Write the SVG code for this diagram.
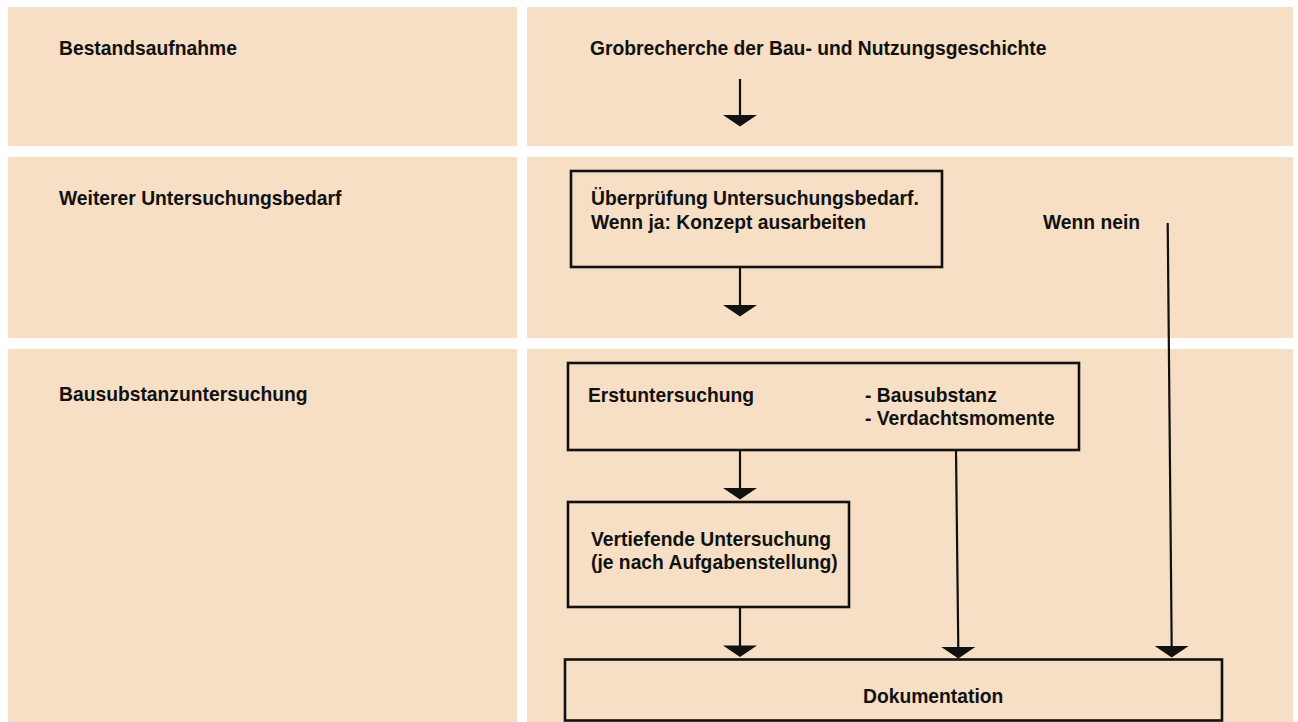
<svg xmlns="http://www.w3.org/2000/svg" xmlns:xlink="http://www.w3.org/1999/xlink" width="1298" height="722" viewBox="0 0 1298 722">
<style>
.panel{fill:#F6DFC4}
.box{fill:none;stroke:#111;stroke-width:2.6}
.ln{stroke:#111;stroke-width:2.2;fill:none}
text{font-family:"Liberation Sans",Arial,sans-serif;font-weight:bold;font-size:19.3px;fill:#111}
</style>
<defs>
<path id="head" d="M-17,0 L17,0 L0,11.5 Z" fill="#111"/>
</defs>
<rect width="1298" height="722" fill="#fff"/>
<g id="panels">
<rect class="panel" x="8" y="7" width="509" height="139"/>
<rect class="panel" x="527" y="7" width="766" height="139"/>
<rect class="panel" x="8" y="157" width="509" height="181"/>
<rect class="panel" x="527" y="157" width="766" height="181"/>
<rect class="panel" x="8" y="349" width="509" height="373"/>
<rect class="panel" x="527" y="349" width="766" height="373"/>
</g>
<g id="row-labels">
<text x="59" y="55">Bestandsaufnahme</text>
<text x="59" y="205">Weiterer Untersuchungsbedarf</text>
<text x="59" y="401">Bausubstanzuntersuchung</text>
</g>
<g id="grobrecherche">
<text x="590" y="55">Grobrecherche der Bau- und Nutzungsgeschichte</text>
</g>
<g id="ueberpruefung">
<rect class="box" x="571" y="171" width="371" height="96"/>
<text x="591" y="205">Überprüfung Untersuchungsbedarf.</text>
<text x="591" y="229">Wenn ja: Konzept ausarbeiten</text>
</g>
<g id="wenn-nein">
<text x="1043" y="229">Wenn nein</text>
</g>
<g id="erstuntersuchung">
<rect class="box" x="568" y="363" width="511" height="87"/>
<text x="588" y="402">Erstuntersuchung</text>
<text x="865" y="402">- Bausubstanz</text>
<text x="865" y="425">- Verdachtsmomente</text>
</g>
<g id="vertiefende">
<rect class="box" x="568" y="502" width="281" height="105"/>
<text x="591" y="546">Vertiefende Untersuchung</text>
<text x="591" y="569">(je nach Aufgabenstellung)</text>
</g>
<g id="dokumentation">
<rect class="box" x="565" y="659.5" width="657" height="61"/>
<text x="863" y="703">Dokumentation</text>
</g>
<g id="connectors">
<line class="ln" x1="740" y1="79" x2="740" y2="116"/>
<use xlink:href="#head" x="740" y="115"/>
<line class="ln" x1="740" y1="268" x2="740" y2="306"/>
<use xlink:href="#head" x="740" y="305"/>
<line class="ln" x1="740" y1="451" x2="740" y2="489"/>
<use xlink:href="#head" x="740" y="488"/>
<line class="ln" x1="740" y1="608" x2="740" y2="646"/>
<use xlink:href="#head" x="740" y="645.5"/>
<line class="ln" x1="956" y1="451" x2="958.3" y2="648"/>
<use xlink:href="#head" x="958.3" y="647"/>
<line class="ln" x1="1167.7" y1="223" x2="1171.7" y2="647"/>
<use xlink:href="#head" x="1171.7" y="646"/>
</g>
</svg>
